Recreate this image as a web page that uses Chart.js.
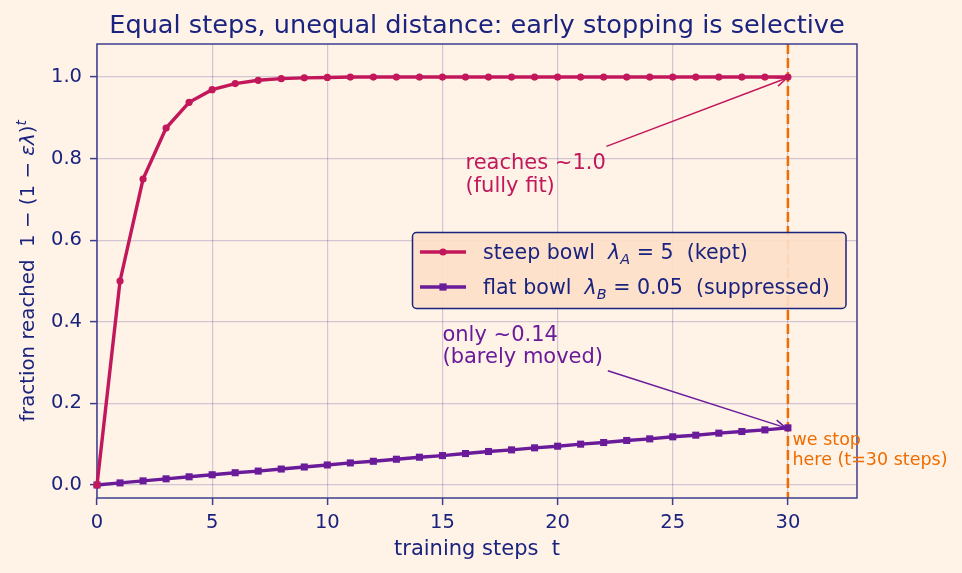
<!DOCTYPE html>
<html>
<head>
<meta charset="utf-8">
<script src="https://cdn.jsdelivr.net/npm/chart.js@4.4.1/dist/chart.umd.min.js"></script>
<style>
  html, body { margin: 0; padding: 0; background: #fff3e8; }
  canvas { display: block; }
</style>
</head>
<body>
<canvas id="stepsChart" width="962" height="573" style="width:962px;height:573px"></canvas>
<script>
// values
const steps = [0, 1, 2, 3, 4, 5, 6, 7, 8, 9, 10, 11, 12, 13, 14, 15, 16, 17, 18, 19, 20,
               21, 22, 23, 24, 25, 26, 27, 28, 29, 30];
const steepValues = [0, 0.5, 0.75, 0.875, 0.938, 0.969, 0.984, 0.992, 0.996, 0.998, 0.999,
                     1.0, 1.0, 1.0, 1.0, 1.0, 1.0, 1.0, 1.0, 1.0, 1.0,
                     1.0, 1.0, 1.0, 1.0, 1.0, 1.0, 1.0, 1.0, 1.0, 1.0];
const flatValues = [0, 0.005, 0.010, 0.015, 0.020, 0.025, 0.030, 0.034, 0.039, 0.044, 0.049,
                    0.054, 0.058, 0.063, 0.068, 0.072, 0.077, 0.082, 0.086, 0.091, 0.095,
                    0.100, 0.104, 0.109, 0.113, 0.118, 0.122, 0.127, 0.131, 0.135, 0.140];
const xTicks = [0, 5, 10, 15, 20, 25, 30];
const yTicks = [0, 0.2, 0.4, 0.6, 0.8, 1.0];
const stopStep = 30;

const NAVY = '#1a237e';
const SPINE = '#3d3f8e';
const STEEP = '#c2185b';
const FLAT = '#6a1b9a';
const STOP = '#ef6c00';
const BG = '#fff3e8';
const GRID = 'rgba(80, 60, 140, 0.25)';
const FONT = '"DejaVu Sans", sans-serif';

// draw text made of pieces (italic / sub / superscript), left aligned on a baseline
function drawRich(ctx, parts, x, y, size) {
    let cx = x;
    parts.forEach(p => {
        const s = (p.sub || p.sup) ? size * 0.7 : size;
        ctx.font = (p.it ? 'italic ' : '') + s + 'px ' + FONT;
        const dy = p.sub ? size * 0.22 : (p.sup ? -size * 0.42 : 0);
        ctx.fillText(p.t, cx, y + dy);
        cx += ctx.measureText(p.t).width;
    });
    return cx - x;
}

function richWidth(ctx, parts, size) {
    let w = 0;
    parts.forEach(p => {
        const s = (p.sub || p.sup) ? size * 0.7 : size;
        ctx.font = (p.it ? 'italic ' : '') + s + 'px ' + FONT;
        w += ctx.measureText(p.t).width;
    });
    return w;
}

function arrow(ctx, x0, y0, x1, y1, color) {
    ctx.save();
    ctx.strokeStyle = color;
    ctx.lineWidth = 1.5;
    ctx.beginPath();
    ctx.moveTo(x0, y0);
    ctx.lineTo(x1, y1);
    ctx.stroke();
    const a = Math.atan2(y1 - y0, x1 - x0), L = 12, w = 0.38;
    ctx.beginPath();
    ctx.moveTo(x1 - L * Math.cos(a - w), y1 - L * Math.sin(a - w));
    ctx.lineTo(x1, y1);
    ctx.lineTo(x1 - L * Math.cos(a + w), y1 - L * Math.sin(a + w));
    ctx.stroke();
    ctx.restore();
}

const decor = {
    id: 'decor',
    beforeDraw(chart) {
        const ctx = chart.ctx;
        ctx.save();
        ctx.fillStyle = BG;
        ctx.fillRect(0, 0, chart.width, chart.height);
        ctx.restore();
    },
    beforeDatasetsDraw(chart) {
        const ctx = chart.ctx, a = chart.chartArea, xs = chart.scales.x;
        ctx.save();
        // stop line
        const sx = xs.getPixelForValue(stopStep);
        ctx.strokeStyle = STOP;
        ctx.lineWidth = 2.5;
        ctx.setLineDash([10, 4]);
        ctx.beginPath();
        ctx.moveTo(sx, a.top);
        ctx.lineTo(sx, a.bottom);
        ctx.stroke();
        ctx.setLineDash([]);
        // frame
        ctx.strokeStyle = SPINE;
        ctx.lineWidth = 1.5;
        ctx.strokeRect(a.left, a.top, a.right - a.left, a.bottom - a.top);
        ctx.restore();
    },
    afterDraw(chart) {
        const ctx = chart.ctx, a = chart.chartArea;
        const xs = chart.scales.x, ys = chart.scales.y;
        const px = v => xs.getPixelForValue(v), py = v => ys.getPixelForValue(v);
        ctx.save();
        ctx.textBaseline = 'alphabetic';

        // title
        ctx.fillStyle = NAVY;
        ctx.font = '25.6px ' + FONT;
        ctx.textAlign = 'center';
        ctx.fillText('Equal steps, unequal distance: early stopping is selective', (a.left + a.right) / 2, 33);

        // x label
        ctx.font = '21px ' + FONT;
        ctx.fillText('training steps  t', (a.left + a.right) / 2, 555);

        // y label
        ctx.textAlign = 'left';
        const yl = [
            { t: 'fraction reached  1 \u2212 (1 \u2212 ' },
            { t: '\u03b5\u03bb', it: true },
            { t: ')' },
            { t: 't', it: true, sup: true }
        ];
        const ylw = richWidth(ctx, yl, 19.8);
        ctx.save();
        ctx.translate(34, (a.top + a.bottom) / 2);
        ctx.rotate(-Math.PI / 2);
        drawRich(ctx, yl, -ylw / 2, 0, 19.8);
        ctx.restore();

        // annotations
        ctx.textAlign = 'left';
        ctx.fillStyle = STEEP;
        ctx.font = '21px ' + FONT;
        ctx.fillText('reaches ~1.0', px(16), py(0.774));
        ctx.fillText('(fully fit)', px(16), py(0.774) + 23);
        arrow(ctx, px(22.12), py(0.83), px(stopStep) - 1, py(steepValues[30]) + 1, STEEP);

        ctx.fillStyle = FLAT;
        ctx.fillText('only ~0.14', px(15), py(0.352));
        ctx.fillText('(barely moved)', px(15), py(0.352) + 22);
        arrow(ctx, px(22.18), py(0.28), px(stopStep) - 2, py(flatValues[30]), FLAT);

        ctx.fillStyle = STOP;
        ctx.font = '17.5px ' + FONT;
        ctx.fillText('we stop', px(30.2), py(0.098));
        ctx.fillText('here (t=30 steps)', px(30.2), py(0.098) + 20);

        // legend
        const lx = 412.5, ly = 232.5, lw = 433.5, lh = 76;
        ctx.beginPath();
        ctx.roundRect(lx, ly, lw, lh, 4);
        ctx.fillStyle = 'rgba(253, 224, 200, 0.92)';
        ctx.fill();
        ctx.strokeStyle = NAVY;
        ctx.lineWidth = 1.5;
        ctx.stroke();

        const rows = [
            { color: STEEP, square: false, y: 252, parts: [
                { t: 'steep bowl  ' }, { t: '\u03bb', it: true }, { t: 'A', it: true, sub: true },
                { t: ' = 5  (kept)' }] },
            { color: FLAT, square: true, y: 287, parts: [
                { t: 'flat bowl  ' }, { t: '\u03bb', it: true }, { t: 'B', it: true, sub: true },
                { t: ' = 0.05  (suppressed)' }] }
        ];
        rows.forEach(r => {
            ctx.strokeStyle = r.color;
            ctx.fillStyle = r.color;
            ctx.lineWidth = 3.4;
            ctx.beginPath();
            ctx.moveTo(420, r.y);
            ctx.lineTo(466, r.y);
            ctx.stroke();
            if (r.square) {
                ctx.fillRect(443 - 3.6, r.y - 3.6, 7.2, 7.2);
            } else {
                ctx.beginPath();
                ctx.arc(443, r.y, 3.6, 0, Math.PI * 2);
                ctx.fill();
            }
            ctx.fillStyle = NAVY;
            drawRich(ctx, r.parts, 483, r.y + 7, 20.6);
        });
        ctx.restore();
    }
};

const ctx = document.getElementById('stepsChart').getContext('2d');
const stepsChart = new Chart(ctx, {
    type: 'line',
    data: {
        datasets: [
            {
                label: 'steep bowl',
                data: steps.map((t, i) => ({ x: t, y: steepValues[i] })),
                borderColor: STEEP,
                backgroundColor: STEEP,
                borderWidth: 3.4,
                pointRadius: 3.6,
                pointBorderWidth: 0,
                pointStyle: 'circle',
                clip: false
            },
            {
                label: 'flat bowl',
                data: steps.map((t, i) => ({ x: t, y: flatValues[i] })),
                borderColor: FLAT,
                backgroundColor: FLAT,
                borderWidth: 3.4,
                pointRadius: 5,
                pointBorderWidth: 0,
                pointStyle: 'rect',
                clip: false
            }
        ]
    },
    options: {
        responsive: false,
        devicePixelRatio: 1,
        animation: false,
        layout: { padding: { top: 44, right: 105, bottom: 0, left: 0 } },
        scales: {
            x: {
                type: 'linear',
                min: 0,
                max: 33,
                afterBuildTicks: s => { s.ticks = xTicks.map(v => ({ value: v })); },
                afterFit: s => { s.height = 75; },
                border: { display: false },
                grid: { color: GRID, lineWidth: 1.2, tickColor: SPINE, tickLength: 7, tickWidth: 1.5 },
                ticks: { color: NAVY, font: { family: FONT, size: 19.5 }, padding: 6, maxRotation: 0 }
            },
            y: {
                type: 'linear',
                min: -0.032,
                max: 1.081,
                afterBuildTicks: s => { s.ticks = yTicks.map(v => ({ value: v })); },
                afterFit: s => { s.width = 97; },
                border: { display: false },
                grid: { color: GRID, lineWidth: 1.2, tickColor: SPINE, tickLength: 7, tickWidth: 1.5 },
                ticks: {
                    color: NAVY, font: { family: FONT, size: 19.5 }, padding: 8,
                    callback: v => v.toFixed(1)
                }
            }
        },
        plugins: {
            legend: { display: false },
            tooltip: { enabled: false }
        }
    },
    plugins: [decor]
});
</script>
</body>
</html>
